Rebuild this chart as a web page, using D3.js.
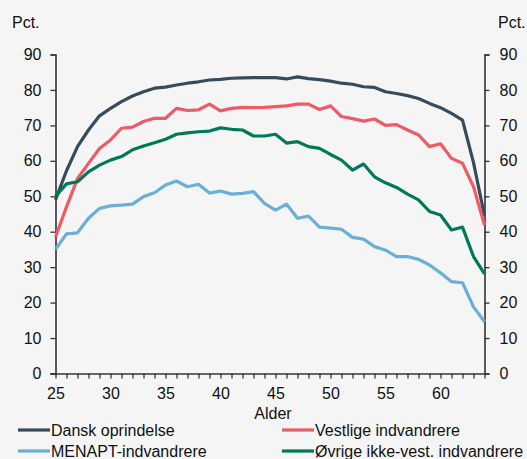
<!DOCTYPE html>
<html>
<head>
<meta charset="utf-8">
<script src="https://cdn.jsdelivr.net/npm/d3@7"></script>
<style>
	body { margin: 0; background: #f5f5f5; }
	svg { display: block; font-family: "Liberation Sans", Arial, sans-serif; }
</style>
</head>
<body>
<div id="chart"></div>
<script>
// ages on the x axis, one point per year
var ages = d3.range(25, 65);

var dansk = [49, 57.2, 64, 68.7, 72.7, 74.8, 76.7, 78.3, 79.5, 80.5,
	80.8, 81.4, 81.9, 82.3, 82.8, 83, 83.3, 83.4, 83.5, 83.5,
	83.5, 83.1, 83.7, 83.2, 82.9, 82.5, 81.9, 81.6, 80.9, 80.7,
	79.5, 79, 78.4, 77.6, 76.2, 75, 73.4, 71.5, 59.5, 44.5];

var vestlige = [38.5, 47, 55, 59.3, 63.5, 65.9, 69.2, 69.5, 71.1, 72,
	72, 74.8, 74.2, 74.4, 76, 74.1, 74.8, 75.1, 75, 75.1,
	75.3, 75.5, 76, 76, 74.5, 75.5, 72.5, 71.9, 71.2, 71.8,
	70, 70.2, 68.7, 67.3, 64, 64.8, 60.7, 59.3, 52.7, 41.9];

var menapt = [35, 39.4, 39.7, 43.8, 46.6, 47.3, 47.5, 47.8, 49.9, 51,
	53.2, 54.3, 52.7, 53.4, 50.9, 51.5, 50.6, 50.8, 51.3, 48,
	46.1, 47.8, 43.8, 44.4, 41.3, 41, 40.7, 38.4, 37.9, 35.8,
	34.8, 33, 33, 32.2, 30.6, 28.4, 25.9, 25.6, 18.8, 14.6];

var oevrige = [50, 53.5, 54.1, 56.9, 58.8, 60.2, 61.2, 63.1, 64.2, 65.1,
	66.1, 67.5, 67.9, 68.2, 68.4, 69.3, 68.9, 68.7, 67, 67,
	67.5, 65, 65.4, 64, 63.5, 61.8, 60.2, 57.4, 59.1, 55.5,
	53.8, 52.5, 50.6, 49, 45.7, 44.7, 40.5, 41.3, 33, 28.1];

var xTicks = [25, 30, 35, 40, 45, 50, 55, 60];
var yTicks = [0, 10, 20, 30, 40, 50, 60, 70, 80, 90];

var series = [
	{"name": "Dansk oprindelse", "values": dansk, "color": "#364b5e"},
	{"name": "Vestlige indvandrere", "values": vestlige, "color": "#ee5b66"},
	{"name": "MENAPT-indvandrere", "values": menapt, "color": "#6aafd6"},
	{"name": "Øvrige ikke-vest. indvandrere", "values": oevrige, "color": "#00795a"}
];

var WIDTH = 527, HEIGHT = 459;
var AXIS_COLOR = "#333";
var FONT = 16;

var svg = d3.select("#chart").append("svg")
	.attr("width", WIDTH)
	.attr("height", HEIGHT);

svg.append("rect")
	.attr("width", WIDTH)
	.attr("height", HEIGHT)
	.attr("fill", "#f5f5f5");

var x = d3.scaleLinear().domain([25, 64]).range([55.5, 484.5]);
var y = d3.scaleLinear().domain([0, 90]).range([373.5, 54.5]);

//LEFT AND RIGHT AXIS
var left = svg.append("g")
	.attr("transform", "translate(" + x(25) + ",0)")
	.call(d3.axisLeft(y).tickValues(yTicks).tickSize(5).tickPadding(9));
var right = svg.append("g")
	.attr("transform", "translate(" + x(64) + ",0)")
	.call(d3.axisRight(y).tickValues(yTicks).tickSize(5).tickPadding(10));

//BOTTOM AXIS: minor tick every year, labels every 5
var bottom = svg.append("g")
	.attr("transform", "translate(0," + y(0) + ")")
	.call(d3.axisBottom(x).tickValues(ages).tickSize(5).tickSizeOuter(0)
		.tickFormat(function(d){
			return xTicks.indexOf(d) >= 0 ? d : "";
		})
	);

[left, right, bottom].forEach(function(g){
	g.selectAll("path").attr("stroke", AXIS_COLOR).attr("stroke-width", 1.6);
	g.selectAll("line").attr("stroke", AXIS_COLOR).attr("stroke-width", 1.3);
	g.selectAll("text")
		.attr("fill", "#111")
		.style("font-size", FONT + "px")
		.style("font-family", "'Liberation Sans', Arial, sans-serif");
});
bottom.select("path").attr("d", "M" + (x(25) - 5) + ",0.5H" + x(64));
bottom.selectAll("text").attr("dy", "0.85em").attr("y", 12);

//AXIS TITLES
svg.append("text").attr("x", 12).attr("y", 28).text("Pct.")
	.style("font-size", FONT + "px").attr("fill", "#111");
svg.append("text").attr("x", 498).attr("y", 28).text("Pct.")
	.style("font-size", FONT + "px").attr("fill", "#111");
svg.append("text").attr("x", 273).attr("y", 419).attr("text-anchor", "middle").text("Alder")
	.style("font-size", FONT + "px").attr("fill", "#111");

//LINES
var line = d3.line()
	.x(function(d, i){ return x(ages[i]); })
	.y(function(d){ return y(d); });

series.forEach(function(s){
	svg.append("path")
		.datum(s.values)
		.attr("fill", "none")
		.attr("stroke", s.color)
		.attr("stroke-width", 3.2)
		.attr("stroke-linejoin", "round")
		.attr("d", line);
});

//LEGEND
var legendPos = [[18, 430], [282, 430], [18, 451], [282, 451]];
series.forEach(function(s, i){
	var p = legendPos[i];
	var g = svg.append("g").attr("transform", "translate(" + p[0] + "," + p[1] + ")");
	g.append("line")
		.attr("x1", 0).attr("x2", 32)
		.attr("stroke", s.color)
		.attr("stroke-width", 3.2);
	g.append("text")
		.attr("x", 33)
		.attr("dy", "0.35em")
		.text(s.name)
		.style("font-size", FONT + "px")
		.attr("fill", "#111");
});
</script>
</body>
</html>
